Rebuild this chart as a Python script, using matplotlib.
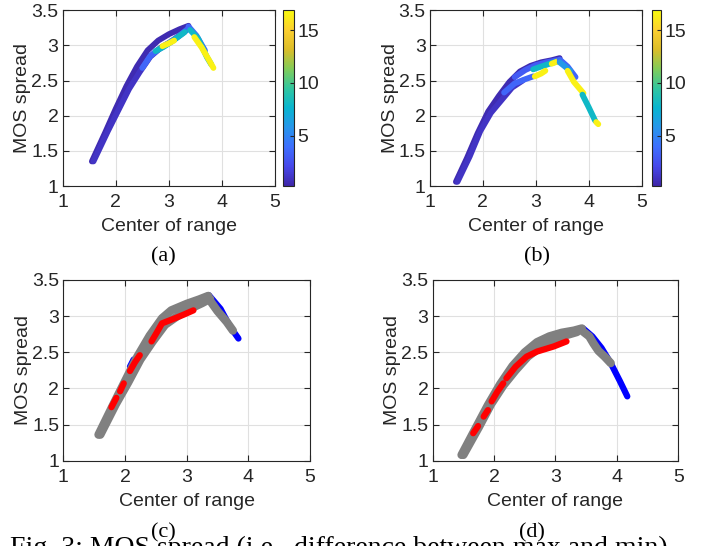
import numpy as np
import matplotlib
matplotlib.use("Agg")
import matplotlib.pyplot as plt
from matplotlib.colors import LinearSegmentedColormap, Normalize
from matplotlib.cm import ScalarMappable

plt.rcParams.update({
    "font.family": ["Liberation Sans", "DejaVu Sans"],
    "font.size": 13,
    "axes.edgecolor": "#262626",
    "xtick.color": "#262626", "ytick.color": "#262626",
    "axes.labelcolor": "#262626",
})

# parula-like colormap (MATLAB default)
PARULA = ["#3e26a8", "#4748ea", "#3e6ffe", "#2796eb", "#08b5d0",
          "#31c6a0", "#81cc59", "#dcbd29", "#fccf30", "#f9fa0e"]
CMAP = LinearSegmentedColormap.from_list("parula", PARULA)
CLIM = (0.2, 16.9)
CB_TICKS = [5, 10, 15]

XTICKS = [1, 2, 3, 4, 5]
YTICKS = [1, 1.5, 2, 2.5, 3, 3.5]
YTICKLABELS = ["1", "1.5", "2", "2.5", "3", "3.5"]

# ── panel (a): traces coloured by value ───────────────────────────────
A_X = [
    [1.55, 1.80, 2.00, 2.20, 2.40, 2.60, 2.80, 3.00, 3.20, 3.37],
    [1.58, 1.85, 2.05, 2.25, 2.45, 2.65, 2.85, 3.05, 3.25, 3.38],
    [2.50, 2.65, 2.80, 3.00, 3.20, 3.35],
    [2.75, 2.90, 3.10, 3.30],
    [2.88, 3.00, 3.10],
    [3.37, 3.52, 3.68],
    [3.40, 3.55, 3.72, 3.80],
    [3.48, 3.62, 3.75, 3.84],
]
A_Y = [
    [1.35, 1.76, 2.10, 2.42, 2.70, 2.93, 3.07, 3.16, 3.23, 3.28],
    [1.35, 1.78, 2.08, 2.38, 2.62, 2.84, 2.97, 3.06, 3.17, 3.25],
    [2.68, 2.85, 2.94, 3.03, 3.14, 3.23],
    [2.92, 2.98, 3.08, 3.19],
    [2.99, 3.03, 3.07],
    [3.27, 3.14, 2.93],
    [3.22, 3.10, 2.83, 2.73],
    [3.12, 2.97, 2.80, 2.68],
]
A_V = [0.5, 1.0, 3.5, 8.0, 16.5, 3.5, 8.0, 16.5]

# ── panel (b) ─────────────────────────────────────────────────────────
B_X = [
    [1.49, 1.70, 1.90, 2.10, 2.30, 2.50, 2.70, 2.90, 3.10, 3.30, 3.45],
    [1.52, 1.75, 1.95, 2.15, 2.35, 2.55, 2.75],
    [2.40, 2.60, 2.80, 2.95],
    [2.60, 2.80, 3.00, 3.20, 3.40],
    [2.95, 3.10, 3.30, 3.45],
    [2.98, 3.10, 3.18],
    [3.30, 3.40],
    [3.45, 3.60, 3.75],
    [3.45, 3.55, 3.65],
    [3.60, 3.72, 3.90],
    [3.88, 4.00, 4.12],
    [4.14, 4.18],
]
B_Y = [
    [1.06, 1.40, 1.75, 2.06, 2.28, 2.48, 2.63, 2.71, 2.76, 2.79, 2.82],
    [1.06, 1.42, 1.78, 2.04, 2.22, 2.40, 2.50],
    [2.33, 2.46, 2.52, 2.56],
    [2.55, 2.65, 2.72, 2.76, 2.79],
    [2.66, 2.70, 2.75, 2.78],
    [2.56, 2.60, 2.64],
    [2.74, 2.77],
    [2.80, 2.70, 2.55],
    [2.76, 2.70, 2.64],
    [2.64, 2.48, 2.32],
    [2.30, 2.12, 1.93],
    [1.91, 1.88],
]
B_V = [0.5, 1.0, 3.5, 3.0, 8.0, 16.5, 16.5, 3.5, 6.0, 16.5, 8.0, 16.5]

# ── panel (c): grey = both, red / blue = one side only ────────────────
C_GREY_X = [
    [1.57, 1.80, 2.00, 2.20, 2.40, 2.60, 2.75, 3.00, 3.20, 3.35],
    [1.60, 1.85, 2.05, 2.25, 2.45, 2.65, 2.85, 3.05, 3.25, 3.38],
    [3.35, 3.50, 3.65, 3.75],
]
C_GREY_Y = [
    [1.36, 1.76, 2.10, 2.44, 2.73, 2.97, 3.08, 3.17, 3.23, 3.28],
    [1.36, 1.78, 2.08, 2.40, 2.65, 2.88, 3.00, 3.10, 3.18, 3.24],
    [3.25, 3.07, 2.92, 2.80],
]
C_BLUE_X = [[3.36, 3.55, 3.70, 3.84], [2.08, 2.14]]
C_BLUE_Y = [[3.29, 3.10, 2.86, 2.69], [2.30, 2.40]]
C_RED_X = [[1.78, 1.86], [1.92, 1.98], [2.08, 2.16, 2.24],
           [2.43, 2.52, 2.60, 2.78, 2.95, 3.11]]
C_RED_Y = [[1.74, 1.87], [1.96, 2.07], [2.24, 2.36, 2.46],
           [2.65, 2.78, 2.90, 2.96, 3.02, 3.08]]

# ── panel (d) ─────────────────────────────────────────────────────────
D_GREY_X = [
    [1.47, 1.70, 1.90, 2.10, 2.30, 2.50, 2.70, 2.90, 3.10, 3.30, 3.43],
    [1.50, 1.75, 1.95, 2.15, 2.35, 2.55, 2.75, 2.95, 3.15, 3.35],
    [3.43, 3.55, 3.62, 3.70, 3.80, 3.90],
]
D_GREY_Y = [
    [1.08, 1.45, 1.77, 2.06, 2.31, 2.50, 2.64, 2.72, 2.77, 2.80, 2.83],
    [1.08, 1.46, 1.78, 2.04, 2.25, 2.44, 2.57, 2.67, 2.73, 2.78],
    [2.80, 2.72, 2.62, 2.52, 2.44, 2.35],
]
D_BLUE_X = [[3.45, 3.60, 3.75, 3.90, 4.05, 4.17], [2.00, 2.05]]
D_BLUE_Y = [[2.83, 2.72, 2.56, 2.35, 2.10, 1.89], [1.88, 1.95]]
D_RED_X = [[1.66, 1.74], [1.83, 1.90], [1.96, 2.05, 2.15],
           [2.20, 2.35, 2.53, 2.70, 2.97, 3.18]]
D_RED_Y = [[1.38, 1.48], [1.61, 1.70], [1.82, 1.95, 2.07],
           [2.14, 2.30, 2.44, 2.51, 2.58, 2.65]]

CAPTION = "Fig. 3: MOS spread (i.e., difference between max and min)"


def style_axes(ax):
    ax.set_xlim(1, 5)
    ax.set_ylim(1, 3.5)
    ax.set_xticks(XTICKS)
    ax.set_yticks(YTICKS)
    ax.set_yticklabels(YTICKLABELS)
    ax.grid(True, color="#e0e0e0", lw=0.8)
    ax.set_axisbelow(True)
    ax.tick_params(direction="in", top=True, right=True, length=4,
                   labelsize=14)
    ax.tick_params(axis="x", pad=6)
    ax.tick_params(axis="y", pad=3)
    for sp in ax.spines.values():
        sp.set_linewidth(0.8)
    ax.set_xlabel("Center of range", fontsize=14, labelpad=5)
    ax.set_ylabel("MOS spread", fontsize=14, labelpad=0)


def draw_lines(ax, xs, ys, color, lw=4.0):
    for x, y in zip(xs, ys):
        ax.plot(x, y, color=color, lw=lw, solid_capstyle="round",
                solid_joinstyle="round")


fig = plt.figure(figsize=(7.1, 5.46), dpi=100)
norm = Normalize(*CLIM)

# top row with colorbars
for axpos, cbpos, xs, ys, vs in [
        ([0.0883, 0.6593, 0.299, 0.3218], [0.399, 0.6593, 0.0155, 0.3218],
         A_X, A_Y, A_V),
        ([0.6056, 0.6593, 0.2982, 0.3218], [0.9178, 0.6593, 0.0135, 0.3218],
         B_X, B_Y, B_V)]:
    ax = fig.add_axes(axpos)
    style_axes(ax)
    for x, y, v in zip(xs, ys, vs):
        ax.plot(x, y, color=CMAP(norm(v)), lw=4.2, solid_capstyle="round",
                solid_joinstyle="round")
    cax = fig.add_axes(cbpos)
    cb = fig.colorbar(ScalarMappable(norm=norm, cmap=CMAP), cax=cax,
                      ticks=CB_TICKS)
    cb.outline.set_linewidth(0.8)
    cax.tick_params(direction="in", length=3, labelsize=14, pad=2)

# bottom row
for axpos, gx, gy, bx, by, rx, ry in [
        ([0.0892, 0.1562, 0.3474, 0.331],
         C_GREY_X, C_GREY_Y, C_BLUE_X, C_BLUE_Y, C_RED_X, C_RED_Y),
        ([0.6094, 0.1562, 0.3459, 0.331],
         D_GREY_X, D_GREY_Y, D_BLUE_X, D_BLUE_Y, D_RED_X, D_RED_Y)]:
    ax = fig.add_axes(axpos)
    style_axes(ax)
    draw_lines(ax, bx, by, "#0000ff", lw=4.5)
    draw_lines(ax, gx, gy, "#808080", lw=6.0)
    draw_lines(ax, rx, ry, "#ff0000", lw=4.5)

serif = ["Liberation Serif", "DejaVu Serif"]
for x, y, s in [(163, 257, "(a)"), (537, 257, "(b)"),
                (163, 533, "(c)"), (532, 533, "(d)")]:
    fig.text(x / 710, 1 - y / 546, s, ha="center", va="center",
             fontsize=16, family=serif)
fig.text(10 / 710, -9 / 546, CAPTION, ha="left", va="baseline",
         fontsize=20, family=serif)

fig.savefig("out.png", dpi=100)
